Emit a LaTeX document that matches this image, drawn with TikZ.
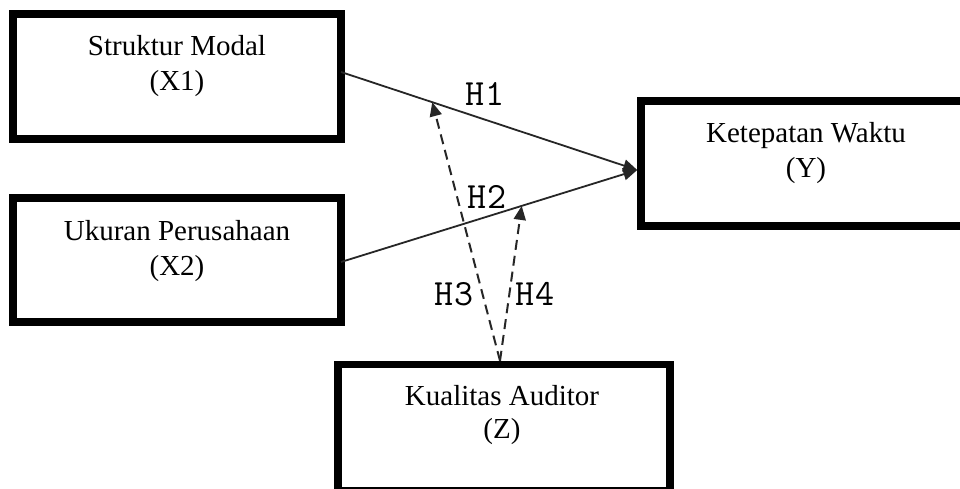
\documentclass[tikz,border=0pt]{standalone}
\usepackage{fontspec}
\setmainfont{Liberation Serif}
\usetikzlibrary{arrows.meta,calc}
\tikzset{
  box/.style={draw=black, line width=7.5pt, rectangle, inner sep=0pt, outer sep=0pt},
  boxtext/.style={font=\fontsize{29pt}{35pt}\selectfont, align=center, anchor=base, inner sep=0pt},
  hlabel/.style={font=\ttfamily\fontsize{37pt}{37pt}\selectfont, anchor=base, inner sep=0pt},
  solidarrow/.style={line width=1.8pt, draw=black!85, -{Triangle[length=14pt,width=12pt]}},
  dasharrow/.style={line width=2pt, draw=black!85, dash pattern=on 10pt off 6pt, -{Triangle[length=14pt,width=12pt]}}
}
\begin{document}
\begin{tikzpicture}[x=1pt,y=-1pt]
\useasboundingbox (0,0) rectangle (960,488);
\fill[white] (0,0) rectangle (960,488);
\clip (0,0) rectangle (960,488);
% boxes
\node[box, minimum width=328pt, minimum height=125pt] (x1) at (177,76.5) {};
\node[box, minimum width=328pt, minimum height=124pt] (x2) at (177,260) {};
\node[box, minimum width=323pt, minimum height=125pt] (y) at (802.5,163.5) {};
\node[box, minimum width=332pt, minimum height=126pt] (z) at (504,427.5) {};
% texts
\node[boxtext] (x1a) at (177,55) {Struktur Modal};
\node[boxtext] (x1b) at (177,90) {(X1)};
\node[boxtext] (x2a) at (177,240) {Ukuran Perusahaan};
\node[boxtext] (x2b) at (177,275) {(X2)};
\node[boxtext] (ya) at (806,142) {Ketepatan Waktu};
\node[boxtext] (yb) at (806,177) {(Y)};
\node[boxtext] (za) at (502,405) {Kualitas Auditor};
\node[boxtext] (zb) at (502,438) {(Z)};
% solid connectors
\coordinate (s1) at ([yshift=4.5pt]x1.east);
\coordinate (s2) at ([yshift=-2pt]x2.east);
\coordinate (t) at ([yshift=-6.5pt,xshift=-3.75pt]y.west);
\draw[solidarrow] (s1) -- (t);
\draw[solidarrow] (s2) -- (t);
% dashed connectors
\coordinate (zs) at ([xshift=-4pt,yshift=3.75pt]z.north);
\coordinate (m1) at ($(s1)!0.308!(t)$);
\coordinate (m2) at ($(s2)!0.61!(t)$);
\draw[dasharrow] (zs) -- (m1);
\draw[dasharrow] (zs) -- (m2);
% labels
\node[hlabel] (h1) at (485,105) {H1};
\node[hlabel] (h2) at (487,208) {H2};
\node[hlabel] (h3) at (454,305) {H3};
\node[hlabel] (h4) at (535,305) {H4};
\end{tikzpicture}
\end{document}
